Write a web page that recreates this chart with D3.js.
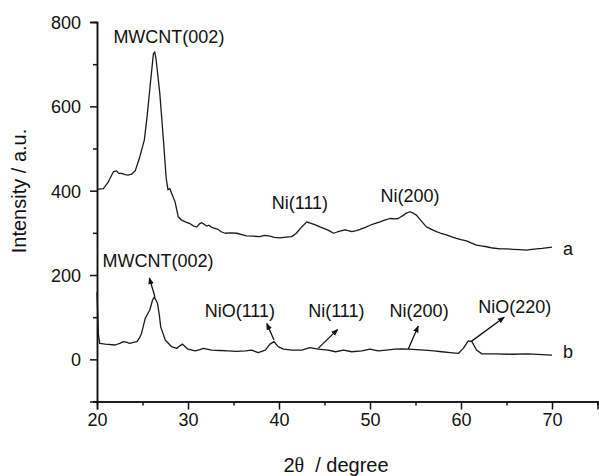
<!DOCTYPE html>
<html>
<head>
<meta charset="utf-8">
<script src="https://cdn.jsdelivr.net/npm/d3@7"></script>
<style>
  html, body { margin: 0; padding: 0; background: #fff; }
  svg { display: block; }
  text { font-family: Arial, "Liberation Sans", sans-serif; fill: #111; }
</style>
</head>
<body>
<svg id="chart" width="599" height="476"></svg>
<script>
// ---- Data ----
const twoThetaA = [20.0,20.7,21.25,21.8,22.15,22.4,22.7,23.1,23.4,23.8,24.2,24.7,25.2,25.5,25.9,26.2,26.35,26.5,26.9,27.3,27.6,27.8,28.0,28.2,28.57,28.93,29.3,29.7,30.2,30.6,30.96,31.3,31.5,31.8,32.05,32.3,32.6,33.3,33.7,34.1,34.7,35.35,35.9,36.45,37.2,37.9,38.4,39.0,39.5,40.1,40.8,41.4,41.9,42.5,43.05,43.6,44.0,44.5,45.2,45.6,46.0,46.4,46.7,47.25,47.6,48.0,48.5,48.9,49.5,50.0,50.5,51.1,51.6,52.2,52.7,53.1,53.4,53.7,54.0,54.4,54.8,55.1,55.6,56.2,56.7,57.3,57.8,58.4,58.9,59.5,60.0,60.6,61.1,61.7,62.2,62.8,63.5,64.3,65.0,65.7,66.4,67.2,67.8,68.3,68.9,69.6,70.0];
const intensityA = [403,405,421,445,447,441,441,438,437,439,447,480,520,575,662,725,729,710,631,520,430,402,405,394,374,338,330,326,322,316,314,322,324,320,316,318,313,308,302,299,300,299,296,293,292,291,294,292,289,288,290,291,299,314,326,322,319,314,308,304,299,302,304,307,305,303,305,308,313,318,322,326,330,334,333,334,338,342,347,350,346,342,329,314,309,303,299,295,291,287,284,281,276,271,269,267,264,262,262,261,260,259,261,262,263,265,266];

const twoThetaB = [20.0,20.08,20.15,20.3,20.9,22.0,22.5,22.9,23.3,23.6,24.0,24.4,24.7,24.9,25.3,25.8,26.1,26.3,26.65,26.85,27.0,27.5,28.2,28.75,29.1,29.4,29.7,30.0,30.8,31.3,31.7,32.6,33.5,34.4,35.3,36.3,37.0,37.7,38.5,39.0,39.45,39.9,40.5,41.4,42.5,43.4,44.3,45.4,46.2,47.1,48.0,49.1,50.0,50.9,51.8,52.75,53.5,54.2,55.1,56.0,57.0,57.9,58.8,59.7,60.25,60.8,61.2,61.7,62.3,63.7,65.6,67.4,68.9,70.0];
const intensityB = [160,110,60,38,36,34,38,42,40,38,40,42,52,62,97,117,140,148,133,105,77,46,30,26,32,36,30,24,20,23,26,22,21,20,19,20,22,16,22,36,42,30,24,22,22,28,24,22,18,22,18,20,24,20,22,24,25,24,23,22,20,18,16,14,26,44,42,22,13,13,12,13,11,10];

const xTicks = [20, 30, 40, 50, 60, 70];
const xMinorTicks = [25, 35, 45, 55, 65, 75];
const yTicks = [0, 200, 400, 600, 800];
const yMinorTicks = [-100, 100, 300, 500, 700];

// Peak labels on curve a: [text, 2θ, intensity]
const labelsA = [
  ["MWCNT(002)", 27.9, 750],
  ["Ni(111)", 42.3, 356],
  ["Ni(200)", 54.4, 372]
];
// Peak labels on curve b with arrows: [text, 2θ, intensity, arrowFromX, arrowFromY, arrowToX, arrowToY]
const labelsB = [
  ["MWCNT(002)", 26.7, 220, 26.37, 148, 25.75, 193],
  ["NiO(111)", 35.7, 100, 39.45, 46, 38.65, 85],
  ["Ni(111)", 46.3, 100, 44.3, 26, 46.45, 71],
  ["Ni(200)", 55.4, 100, 54.2, 24, 55.3, 79],
  ["NiO(220)", 65.9, 109, 61.1, 42, 64.75, 100]
];
const seriesNames = [["a", 71.2, 262], ["b", 71.2, 18]];

// ---- Chart ----
const svg = d3.select("#chart");
const x = d3.scaleLinear().domain([20, 75]).range([97, 597.5]);
const y = d3.scaleLinear().domain([-100, 800]).range([401.5, 22]);

svg.append("defs").append("marker")
  .attr("id", "arrow").attr("viewBox", "0 0 10 10")
  .attr("refX", 9).attr("refY", 5)
  .attr("markerWidth", 7).attr("markerHeight", 7)
  .attr("markerUnits", "userSpaceOnUse")
  .attr("orient", "auto")
  .append("path").attr("d", "M0,1 L10,5 L0,9 Z").attr("fill", "#111");

const line = d3.line().x(d => x(d[0])).y(d => y(d[1]));
const dataA = twoThetaA.map((t, i) => [t, intensityA[i]]);
const dataB = twoThetaB.map((t, i) => [t, intensityB[i]]);

[dataA, dataB].forEach(d => {
  svg.append("path").datum(d).attr("d", line)
    .attr("fill", "none").attr("stroke", "#1a1a1a")
    .attr("stroke-width", 1.3).attr("stroke-linejoin", "round");
});

// Axes
const xAxisG = svg.append("g").attr("transform", `translate(0,${y(-100)})`);
xAxisG.call(d3.axisBottom(x).tickValues(xMinorTicks).tickSize(4).tickFormat(""));
xAxisG.call(g => g.append("g").call(d3.axisBottom(x).tickValues(xTicks).tickSize(8).tickPadding(4)));
const yAxisG = svg.append("g").attr("transform", `translate(${x(20)},0)`);
yAxisG.call(d3.axisLeft(y).tickValues(yMinorTicks).tickSize(4).tickFormat(""));
yAxisG.call(g => g.append("g").call(d3.axisLeft(y).tickValues(yTicks).tickSize(7).tickPadding(9)));

svg.selectAll(".domain").attr("stroke", "#111").attr("stroke-width", 1.5);
svg.selectAll(".tick line").attr("stroke", "#111").attr("stroke-width", 1.5);
svg.selectAll(".tick text").attr("font-size", 18).attr("font-family", "Arial, 'Liberation Sans', sans-serif").attr("fill", "#111");
yAxisG.selectAll(".tick text").attr("dy", "0.36em");

// Axis titles
svg.append("text")
  .attr("transform", `translate(26,${191}) rotate(-90)`)
  .attr("text-anchor", "middle").attr("font-size", 20)
  .text("Intensity / a.u.");

const xt = svg.append("text").attr("x", 336).attr("y", 472)
  .attr("text-anchor", "middle").attr("font-size", 20);
xt.append("tspan").text("2");
xt.append("tspan").attr("font-family", "'Liberation Serif', 'DejaVu Serif', serif").text("θ");
xt.append("tspan").text("\u00a0\u00a0/\u00a0degree");

// Labels on curve a
labelsA.forEach(l => {
  svg.append("text").attr("x", x(l[1])).attr("y", y(l[2]))
    .attr("text-anchor", "middle").attr("font-size", 18).text(l[0]);
});
// Labels on curve b with arrows
labelsB.forEach(l => {
  svg.append("text").attr("x", x(l[1])).attr("y", y(l[2]))
    .attr("text-anchor", "middle").attr("font-size", 18).text(l[0]);
  svg.append("line")
    .attr("x1", x(l[3])).attr("y1", y(l[4]))
    .attr("x2", x(l[5])).attr("y2", y(l[6]))
    .attr("stroke", "#111").attr("stroke-width", 1.3)
    .attr("marker-end", "url(#arrow)");
});
// Series names
seriesNames.forEach(s => {
  svg.append("text").attr("x", x(s[1])).attr("y", y(s[2]))
    .attr("dy", "0.36em").attr("font-size", 18).text(s[0]);
});
</script>
</body>
</html>
